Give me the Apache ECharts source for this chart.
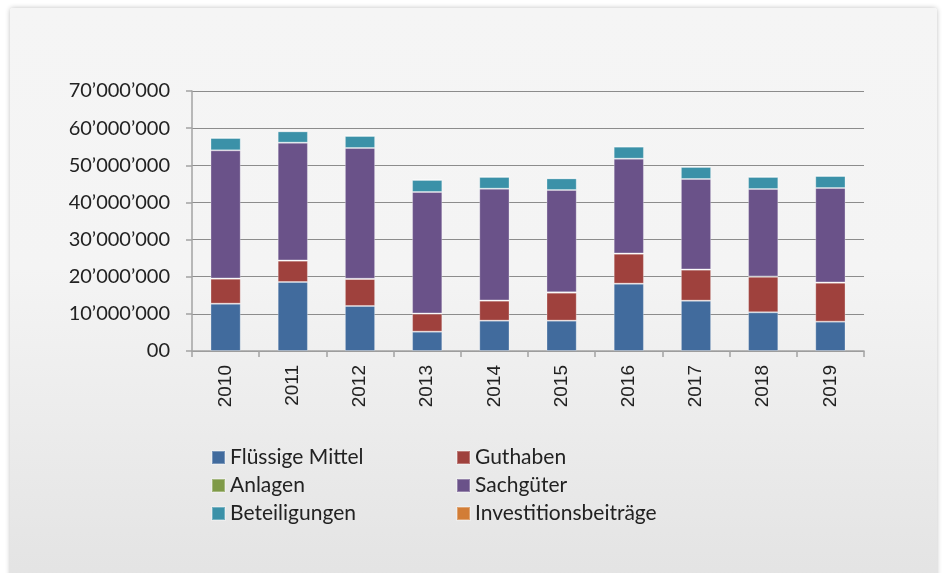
<!DOCTYPE html>
<html>
<head>
    <meta charset="utf-8">
    <title>Vermögen 2010-2019</title>
    <script src="https://cdn.jsdelivr.net/npm/echarts@6/dist/echarts.min.js"></script>
    <style>
        body { margin: 0; background: #ffffff; }
        #card {
            position: absolute; left: 10px; top: 8px; width: 927px; height: 580px;
            background: linear-gradient(to bottom, #f5f5f5 0%, #f4f4f4 45%, #e3e3e3 100%);
            box-shadow: 0 0 5px rgba(0,0,0,0.25);
            border-radius: 3px;
        }
        #main { position: absolute; left: 0; top: 0; width: 948px; height: 573px; }
    </style>
</head>
<body>
    <div id="card"></div>
    <div id="main"></div>
    <script type="text/javascript">
        // Daten (in Franken)
        var jahre = ['2010', '2011', '2012', '2013', '2014', '2015', '2016', '2017', '2018', '2019'];
        var fluessigeMittel = [12740000, 18580000, 12120000, 5200000, 8170000, 8170000, 18130000, 13550000, 10410000, 7900000];
        var guthaben = [6730000, 5740000, 7270000, 4850000, 5380000, 7530000, 8070000, 8350000, 9600000, 10500000];
        var anlagen = [60000, 60000, 60000, 60000, 60000, 100000, 60000, 60000, 60000, 60000];
        var sachgueter = [34500000, 31710000, 35210000, 32700000, 30090000, 27540000, 25520000, 24350000, 23540000, 25420000];
        var beteiligungen = [3320000, 3050000, 3230000, 3230000, 3150000, 3140000, 3230000, 3230000, 3240000, 3230000];
        var investitionsbeitraege = [150000, 270000, 180000, 270000, 270000, 170000, 270000, 270000, 270000, 150000];

        var myChart = echarts.init(document.getElementById('main'));

        function tausender(v) {
            if (v === 0) return '00';
            return String(v).replace(/\B(?=(\d{3})+(?!\d))/g, '\u2019');
        }

        var schrift = 'Lato, "DejaVu Sans", sans-serif';
        var schmal = '"Liberation Sans Narrow", "Liberation Sans", Arial, sans-serif';

        function serie(name, data, farbe) {
            return {
                name: name,
                type: 'bar',
                stack: 'total',
                barCategoryGap: '55%',
                data: data,
                itemStyle: { color: farbe, borderColor: 'rgba(255,255,255,0.3)', borderWidth: 1 }
            };
        }

        var legendeText = { fontFamily: schrift, fontSize: 21, color: '#222' };

        var option = {
            animation: false,
            backgroundColor: 'transparent',
            textStyle: { fontFamily: schrift },
            grid: { left: 192, right: 84, top: 91, bottom: 222 },
            legend: [
                {
                    data: ['Flüssige Mittel', 'Anlagen', 'Beteiligungen'],
                    orient: 'vertical', left: 206, top: 442, itemGap: 7,
                    itemWidth: 13, itemHeight: 13, icon: 'rect',
                    textStyle: legendeText
                },
                {
                    data: ['Guthaben', 'Sachgüter', 'Investitionsbeiträge'],
                    orient: 'vertical', left: 451, top: 442, itemGap: 7,
                    itemWidth: 13, itemHeight: 13, icon: 'rect',
                    textStyle: legendeText
                }
            ],
            xAxis: {
                type: 'category',
                data: jahre,
                axisLine: { lineStyle: { color: '#a3a3a3', width: 1.5 } },
                axisTick: { show: true, length: 6, lineStyle: { color: '#a3a3a3', width: 1.5 } },
                axisLabel: { rotate: 90, margin: 14, fontSize: 19, color: '#222', fontFamily: schmal }
            },
            yAxis: {
                type: 'value',
                min: 0, max: 70000000, interval: 10000000,
                axisLine: { show: true, lineStyle: { color: '#a3a3a3', width: 1.5 } },
                axisTick: { show: true, length: 6, lineStyle: { color: '#a3a3a3', width: 1.5 } },
                splitLine: { lineStyle: { color: '#8c8c8c', width: 1.2 } },
                axisLabel: { margin: 22, fontSize: 20, color: '#222', fontFamily: schrift, formatter: tausender }
            },
            series: [
                serie('Flüssige Mittel', fluessigeMittel, '#416b9d'),
                serie('Guthaben', guthaben, '#9f413d'),
                serie('Anlagen', anlagen, '#7f9a48'),
                serie('Sachgüter', sachgueter, '#6a5289'),
                serie('Beteiligungen', beteiligungen, '#3b91a8'),
                serie('Investitionsbeiträge', investitionsbeitraege, '#d27d36')
            ]
        };

        myChart.setOption(option);
    </script>
</body>
</html>
